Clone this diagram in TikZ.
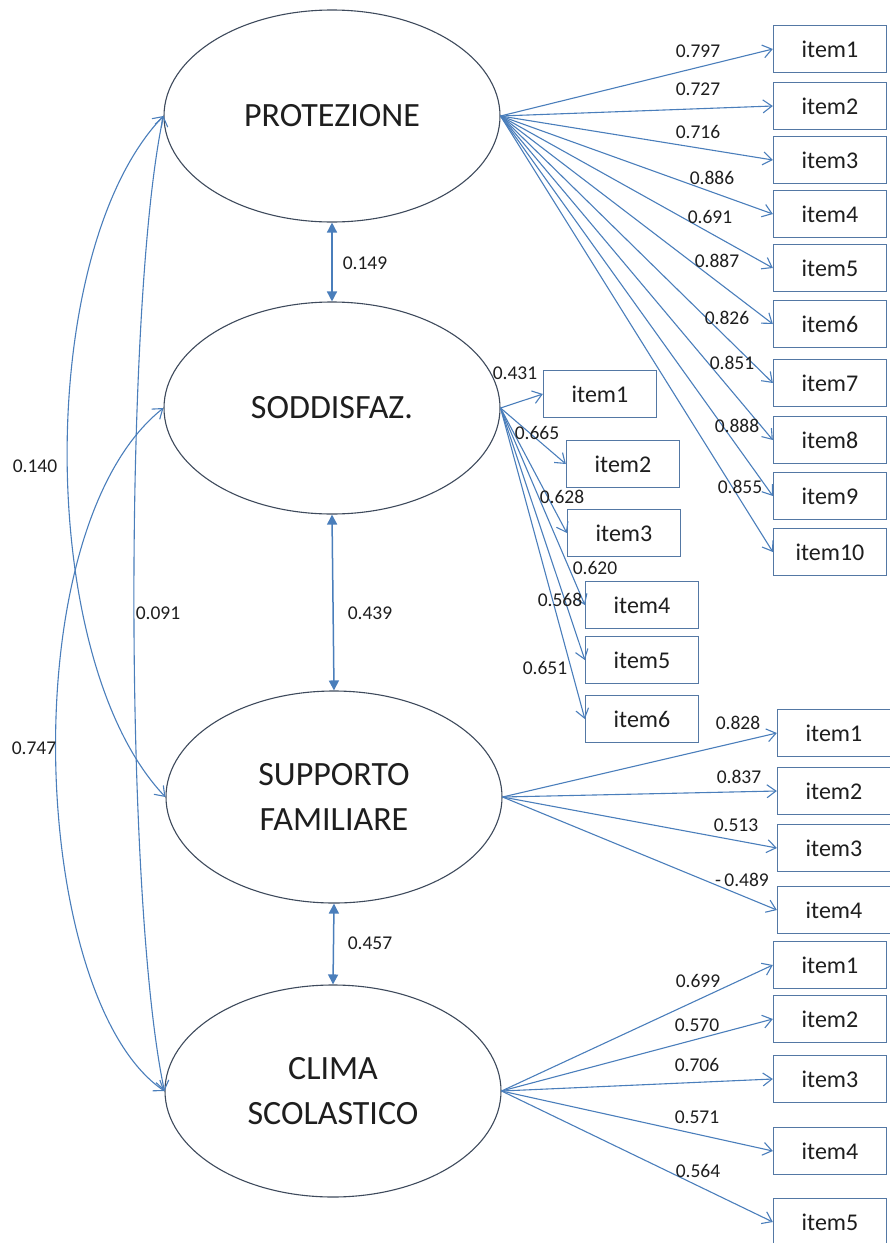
\documentclass[tikz,border=0pt]{standalone}
\usepackage{fontspec}
\setmainfont{Carlito}
\usetikzlibrary{arrows.meta,shapes.geometric}
\definecolor{linkblue}{RGB}{74,126,187}
\definecolor{boxblue}{RGB}{84,120,164}
\definecolor{rimgrey}{RGB}{62,74,92}
\definecolor{inkgrey}{RGB}{30,30,30}
\begin{document}
\begin{tikzpicture}[x=1pt,y=-1pt,
  latent/.style={ellipse, draw=rimgrey, line width=1.1pt, fill=white,
    minimum width=336pt, minimum height=212pt, inner sep=0pt, align=center,
    text=inkgrey, font=\fontsize{34}{45}\selectfont},
  itembox/.style={rectangle, draw=boxblue, line width=1.3pt, fill=white,
    minimum width=113pt, minimum height=47pt, inner sep=0pt,
    text=inkgrey, font=\fontsize{24}{28}\selectfont},
  barb/.tip={Straight Barb[length=9pt,width=13pt,line width=1.1pt]},
  load/.style={draw=linkblue, line width=1.1pt, -barb},
  cov/.style={draw=linkblue, line width=1.1pt, barb-barb},
  corr/.style={draw=linkblue, line width=1.5pt,
    {Triangle[length=10pt,width=10pt]}-{Triangle[length=10pt,width=10pt]}},
  coef/.style={inner sep=0pt, text=inkgrey, font=\fontsize{19.5}{22}\selectfont}]
\useasboundingbox (0,0) rectangle (890,1243);

% latent factors
\node[latent] (P) at (332,116) {PROTEZIONE};
\node[latent] (S) at (332,408) {SODDISFAZ.};
\node[latent] (F) at (334,797) {SUPPORTO\\FAMILIARE};
\node[latent] (C) at (333,1091) {CLIMA\\SCOLASTICO};

% indicators of PROTEZIONE
\foreach \i/\y in {1/49,2/106,3/160,4/214,5/268,6/324,7/383,8/440,9/496,10/552}
  \node[itembox] (p\i) at (830,\y) {item\i};
% indicators of SODDISFAZ.
\foreach \i/\x/\y in {1/600/394,2/623/464,3/624/533,4/642/605,5/642/660,6/642/719}
  \node[itembox] (s\i) at (\x,\y) {item\i};
% indicators of SUPPORTO FAMILIARE
\foreach \i/\y in {1/733,2/791,3/848,4/910}
  \node[itembox] (f\i) at (834,\y) {item\i};
% indicators of CLIMA SCOLASTICO
\foreach \i/\y in {1/965,2/1019,3/1079,4/1151,5/1222}
  \node[itembox] (c\i) at (830,\y) {item\i};

% factor loadings
\foreach \i in {1,...,10} \draw[load] (P.east) -- (p\i.west);
\foreach \i in {1,...,6} \draw[load] (S.east) -- (s\i.west);
\foreach \i in {1,...,4} \draw[load] (F.east) -- (f\i.west);
\foreach \i in {1,...,5} \draw[load] (C.east) -- (c\i.west);

% correlations between neighbouring factors
\draw[corr] (P.south) -- (S.north);
\draw[corr] (S.south) -- (F.north);
\draw[corr] (F.south) -- (C.north);

% correlations between distant factors
\draw[cov] (P.west) .. controls (35,250) and (35,660) .. (F.west);
\draw[cov] (P.west) .. controls (124,300) and (124,900) .. (C.west);
\draw[cov] (S.west) .. controls (10,530) and (30,1000) .. (C.west);

% coefficients
\node[coef] (kp1) at (698,51) {0.797};
\node[coef] (kp2) at (698,89) {0.727};
\node[coef] (kp3) at (698,132) {0.716};
\node[coef] (kp4) at (712,178) {0.886};
\node[coef] (kp5) at (710,217) {0.691};
\node[coef] (kp6) at (717,261) {0.887};
\node[coef] (kp7) at (727,318) {0.826};
\node[coef] (kp8) at (732,363) {0.851};
\node[coef] (kp9) at (737,426) {0.888};
\node[coef] (kp10) at (740,487) {0.855};

\node[coef] (ks1) at (515,373) {0.431};
\node[coef] (ks2) at (537,433) {0.665};
\node[coef] (ks3) at (562,497) {0.628};
\node[coef] (ks4) at (595,568) {0.620};
\node[coef] (ks5) at (560,600) {0.568};
\node[coef] (ks6) at (545,668) {0.651};

\node[coef] (kf1) at (738,723) {0.828};
\node[coef] (kf2) at (739,777) {0.837};
\node[coef] (kf3) at (736,825) {0.513};
\node[coef] (kf4) at (742,880) {-\,0.489};

\node[coef] (kc1) at (698,981) {0.699};
\node[coef] (kc2) at (697,1025) {0.570};
\node[coef] (kc3) at (697,1065) {0.706};
\node[coef] (kc4) at (697,1117) {0.571};
\node[coef] (kc5) at (698,1171) {0.564};

\node[coef] (kps) at (365,263) {0.149};
\node[coef] (ksf) at (370,613) {0.439};
\node[coef] (kfc) at (370,943) {0.457};
\node[coef] (kpf) at (35,466) {0.140};
\node[coef] (kpc) at (158,613) {0.091};
\node[coef] (ksc) at (34,748) {0.747};
\end{tikzpicture}
\end{document}
